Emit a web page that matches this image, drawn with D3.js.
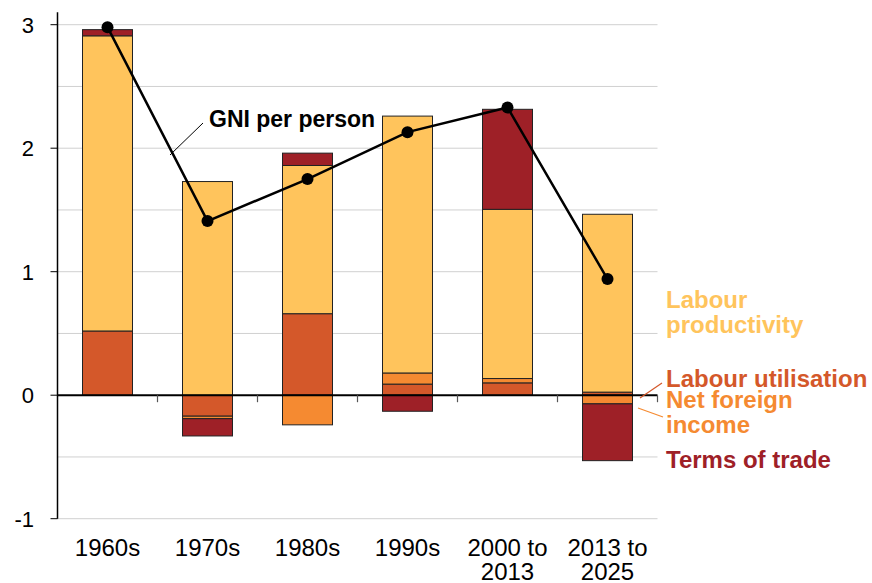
<!DOCTYPE html>
<html lang="en">
<head>
    <meta charset="UTF-8">
    <title>GNI per person decomposition</title>
    <script src="https://d3js.org/d3.v7.min.js"></script>
    <style>
        body { margin: 0; background: #fff; }
        text { font-family: "Liberation Sans", Arial, sans-serif; }
    </style>
</head>
<body>
    <svg id="chart" width="872" height="583"></svg>

    <script>
        // Data (percentage points per year)
        const categories = ["1960s", "1970s", "1980s", "1990s", "2000 to 2013", "2013 to 2025"];
        const labourUtilisation = [0.52, -0.17, 0.66, 0.09, 0.10, 0.025];
        const netForeignIncome = [0, -0.02, -0.24, 0.09, 0.035, -0.07];
        const labourProductivity = [2.39, 1.73, 1.20, 2.08, 1.37, 1.44];
        const termsOfTrade = [0.05, -0.14, 0.10, -0.13, 0.81, -0.46];
        const gniPerPerson = [2.98, 1.41, 1.75, 2.13, 2.33, 0.94];
        const yTicks = [-1, 0, 1, 2, 3];
        const gridValues = [-1, -0.5, 0.5, 1, 1.5, 2, 2.5, 3];

        const seriesKeys = ["lu", "nfi", "lp", "tot"];
        const colors = { lu: "#D4582A", nfi: "#F58A31", lp: "#FFC45C", tot: "#9E2027" };

        const rows = categories.map((c, i) => ({
            cat: c,
            lu: labourUtilisation[i],
            nfi: netForeignIncome[i],
            lp: labourProductivity[i],
            tot: termsOfTrade[i],
            gni: gniPerPerson[i]
        }));

        const svg = d3.select("#chart");
        const left = 57.5, right = 657.5;

        const x = d3.scaleBand().domain(categories).range([left, right]).paddingInner(0.5).paddingOuter(0.25);
        const y = d3.scaleLinear().domain([-1, 3]).range([518.7, 24.7]);

        // gridlines
        svg.append("g").selectAll("line").data(gridValues).enter().append("line")
            .attr("x1", left).attr("x2", right)
            .attr("y1", d => y(d)).attr("y2", d => y(d))
            .attr("stroke", "#d0d0d0").attr("stroke-width", 1);

        // stacked bars
        const stack = d3.stack().keys(seriesKeys).offset(d3.stackOffsetDiverging);
        const stacked = stack(rows);

        const layers = svg.append("g").selectAll("g").data(stacked).enter().append("g")
            .attr("fill", d => colors[d.key]);

        layers.selectAll("rect")
            .data(d => d.filter(p => Math.abs(p[1] - p[0]) > 0.0001))
            .enter().append("rect")
            .attr("x", d => x(d.data.cat))
            .attr("width", x.bandwidth())
            .attr("y", d => y(Math.max(d[0], d[1])))
            .attr("height", d => Math.abs(y(d[0]) - y(d[1])))
            .attr("stroke", "#222")
            .attr("stroke-width", 1);

        // y axis
        svg.append("line")
            .attr("x1", left).attr("x2", left)
            .attr("y1", y(3.1)).attr("y2", y(-1))
            .attr("stroke", "#000").attr("stroke-width", 1.5);
        const yAxis = svg.append("g").selectAll("g").data(yTicks).enter().append("g");
        yAxis.append("line")
            .attr("x1", left - 7).attr("x2", left)
            .attr("y1", d => y(d)).attr("y2", d => y(d))
            .attr("stroke", "#000").attr("stroke-width", 1);
        yAxis.append("text")
            .attr("x", 34).attr("y", d => y(d))
            .attr("dy", "0.36em")
            .attr("text-anchor", "end")
            .attr("font-size", 22)
            .text(d => d);

        // x axis at zero
        svg.append("line")
            .attr("x1", left).attr("x2", right)
            .attr("y1", y(0)).attr("y2", y(0))
            .attr("stroke", "#000").attr("stroke-width", 2);
        svg.append("g").selectAll("line").data(categories).enter().append("line")
            .attr("x1", d => x(d) + x.bandwidth() * 1.5)
            .attr("x2", d => x(d) + x.bandwidth() * 1.5)
            .attr("y1", y(0)).attr("y2", y(0) + 7)
            .attr("stroke", "#555").attr("stroke-width", 1.2);

        // category labels (split into two lines where needed)
        const catLabels = svg.append("g").selectAll("text").data(categories).enter().append("text")
            .attr("x", d => x(d) + x.bandwidth() / 2)
            .attr("y", 556)
            .attr("text-anchor", "middle")
            .attr("font-size", 24);
        catLabels.each(function(d) {
            const parts = d.includes(" to ") ? [d.replace(/ to .*/, " to"), d.replace(/.* to /, "")] : [d];
            const t = d3.select(this);
            parts.forEach((p, i) => {
                t.append("tspan")
                    .attr("x", x(d) + x.bandwidth() / 2)
                    .attr("dy", i === 0 ? 0 : 24)
                    .text(p);
            });
        });

        // GNI per person line
        const line = d3.line()
            .x(d => x(d.cat) + x.bandwidth() / 2)
            .y(d => y(d.gni));
        svg.append("path")
            .datum(rows)
            .attr("d", line)
            .attr("fill", "none")
            .attr("stroke", "#000")
            .attr("stroke-width", 2.5);
        svg.append("g").selectAll("circle").data(rows).enter().append("circle")
            .attr("cx", d => x(d.cat) + x.bandwidth() / 2)
            .attr("cy", d => y(d.gni))
            .attr("r", 6)
            .attr("fill", "#000");

        // GNI label and leader
        svg.append("line")
            .attr("x1", 170).attr("y1", 155).attr("x2", 203).attr("y2", 123)
            .attr("stroke", "#000").attr("stroke-width", 1);
        svg.append("text")
            .attr("x", 209).attr("y", 127)
            .attr("font-size", 23).attr("font-weight", "bold")
            .attr("fill", "#000")
            .text("GNI per person");

        // series labels on the right
        const labelX = 666;
        const seriesLabels = [
            { lines: ["Labour", "productivity"], ys: [308, 333], color: colors.lp },
            { lines: ["Labour utilisation"], ys: [387], color: colors.lu },
            { lines: ["Net foreign", "income"], ys: [408, 433], color: colors.nfi },
            { lines: ["Terms of trade"], ys: [468], color: colors.tot }
        ];
        seriesLabels.forEach(s => {
            s.lines.forEach((l, i) => {
                svg.append("text")
                    .attr("x", labelX).attr("y", s.ys[i])
                    .attr("font-size", 24).attr("font-weight", "bold")
                    .attr("fill", s.color)
                    .text(l);
            });
        });

        // leader lines for the small segments
        svg.append("line")
            .attr("x1", 640).attr("y1", 398).attr("x2", 662).attr("y2", 383)
            .attr("stroke", colors.lu).attr("stroke-width", 1.2);
        svg.append("line")
            .attr("x1", 638).attr("y1", 408).attr("x2", 663).attr("y2", 417)
            .attr("stroke", colors.nfi).attr("stroke-width", 1.2);
    </script>
</body>
</html>
